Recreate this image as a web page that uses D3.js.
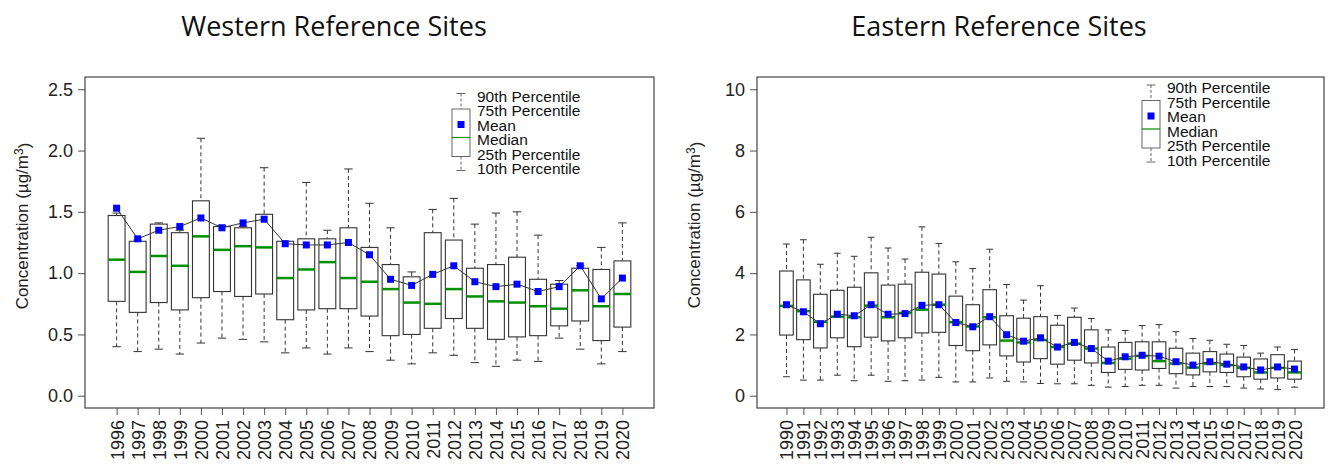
<!DOCTYPE html>
<html>
<head>
<meta charset="utf-8">
<script src="https://cdn.jsdelivr.net/npm/d3@7/dist/d3.min.js"></script>
<style>
  body { margin: 0; background: #fff; }
  svg { display: block; }
</style>
</head>
<body>
<div id="chart"></div>
<script>
// ---- data ----
var westYears = [1996,1997,1998,1999,2000,2001,2002,2003,2004,2005,2006,2007,2008,
                 2009,2010,2011,2012,2013,2014,2015,2016,2017,2018,2019,2020];
var westP90  = [1.49,1.27,1.41,1.35,2.10,1.39,1.38,1.86,1.26,1.74,1.35,1.85,1.57,
                1.37,1.01,1.52,1.61,1.40,1.49,1.50,1.31,0.94,1.06,1.21,1.41];
var westQ3   = [1.47,1.26,1.40,1.33,1.59,1.38,1.37,1.48,1.26,1.28,1.28,1.37,1.21,
                1.07,0.97,1.33,1.27,1.04,1.07,1.13,0.95,0.91,1.04,1.03,1.10];
var westMed  = [1.11,1.01,1.14,1.06,1.30,1.19,1.22,1.21,0.96,1.03,1.09,0.96,0.93,
                0.87,0.76,0.75,0.87,0.81,0.77,0.76,0.73,0.71,0.86,0.73,0.83];
var westQ1   = [0.77,0.68,0.76,0.70,0.80,0.85,0.81,0.83,0.62,0.70,0.71,0.71,0.65,
                0.49,0.50,0.55,0.63,0.55,0.46,0.48,0.49,0.57,0.61,0.45,0.56];
var westP10  = [0.40,0.36,0.38,0.34,0.43,0.47,0.46,0.44,0.35,0.39,0.34,0.39,0.36,
                0.29,0.26,0.35,0.33,0.27,0.24,0.29,0.28,0.47,0.38,0.26,0.36];
var westMean = [1.53,1.28,1.35,1.38,1.45,1.37,1.41,1.44,1.24,1.23,1.23,1.25,1.15,
                0.95,0.90,0.99,1.06,0.93,0.89,0.91,0.85,0.89,1.06,0.79,0.96];
var westTicks = [0, 0.5, 1.0, 1.5, 2.0, 2.5];

var eastYears = [1990,1991,1992,1993,1994,1995,1996,1997,1998,1999,2000,2001,2002,2003,2004,2005,
                 2006,2007,2008,2009,2010,2011,2012,2013,2014,2015,2016,2017,2018,2019,2020];
var eastP90  = [4.95,5.09,4.29,4.65,4.55,5.17,4.82,4.46,5.51,4.97,4.37,4.15,4.78,3.63,3.12,3.59,
                2.62,2.86,2.52,2.15,2.13,2.29,2.32,2.09,1.87,1.81,1.68,1.64,1.39,1.59,1.51];
var eastQ3   = [4.07,3.78,3.31,3.44,3.54,4.01,3.61,3.64,4.03,3.97,3.25,2.97,3.46,2.61,2.53,2.58,
                2.30,2.56,2.15,1.59,1.74,1.76,1.76,1.55,1.39,1.44,1.36,1.26,1.20,1.34,1.13];
var eastMed  = [2.93,2.76,2.41,2.58,2.56,2.94,2.56,2.70,2.81,2.97,2.40,2.26,2.56,1.80,1.74,1.82,
                1.59,1.70,1.54,1.07,1.21,1.30,1.13,1.05,0.92,1.05,1.00,0.91,0.76,0.91,0.76];
var eastQ1   = [1.98,1.83,1.56,1.89,1.60,1.91,1.79,1.89,2.05,2.07,1.64,1.47,1.66,1.30,1.10,1.21,
                1.03,1.16,1.07,0.76,0.86,0.84,0.89,0.72,0.68,0.78,0.76,0.62,0.54,0.58,0.54];
var eastP10  = [0.62,0.51,0.51,0.67,0.49,0.67,0.47,0.49,0.51,0.60,0.45,0.45,0.58,0.47,0.45,0.40,
                0.39,0.39,0.34,0.28,0.30,0.34,0.34,0.25,0.30,0.30,0.30,0.25,0.22,0.20,0.28];
var eastMean = [2.97,2.74,2.35,2.66,2.61,2.97,2.66,2.68,2.95,2.97,2.39,2.25,2.58,1.99,1.78,1.89,
                1.59,1.74,1.54,1.13,1.27,1.32,1.29,1.11,1.00,1.11,1.03,0.94,0.84,0.94,0.87];
var eastTicks = [0, 2, 4, 6, 8, 10];

var legendLabels = ["90th Percentile","75th Percentile","Mean","Median","25th Percentile","10th Percentile"];

// ---- page ----
var width = 1331, height = 464;
var svg = d3.select("#chart").append("svg")
    .attr("width", width)
    .attr("height", height);

var green = "#009000", blue = "#0000ff", ink = "#333";
var axisFont = "'Liberation Sans', Arial, sans-serif";

function build(years, p10, q1, med, q3, p90, mean) {
    return years.map(function(y, i) {
        return {year: y, p10: p10[i], q1: q1[i], med: med[i], q3: q3[i], p90: p90[i], mean: mean[i]};
    });
}

function drawPanel(cfg) {
    var rows = cfg.rows, n = rows.length;
    var f = cfg.frame;
    var first = rows[0].year, last = rows[n - 1].year;
    var pad = 0.5 + 0.04 * n;

    var x = d3.scaleLinear()
        .domain([first - pad, last + pad])
        .range([f.l, f.r]);
    var yMax = cfg.ticks[cfg.ticks.length - 1];
    var y = d3.scaleLinear()
        .domain([-0.04 * yMax, yMax * 1.04])
        .range([f.b, f.t]);

    var step = x(first + 1) - x(first);
    var bw = step * 0.8, cw = bw * 0.5;

    var g = svg.append("g");

    // title
    g.append("text")
        .attr("x", cfg.titleX)
        .attr("y", 36)
        .attr("text-anchor", "middle")
        .style("font-family", "'Open Sans', 'Noto Sans', sans-serif")
        .style("font-size", "27px")
        .style("fill", "#111")
        .text(cfg.title);

    // y axis
    var yAxis = g.append("g")
        .attr("transform", "translate(" + f.l + ",0)")
        .call(d3.axisLeft(y).tickValues(cfg.ticks).tickFormat(cfg.fmt).tickSize(7).tickPadding(5));
    yAxis.select(".domain").remove();

    // x axis
    var xAxis = g.append("g")
        .attr("transform", "translate(0," + f.b + ")")
        .call(d3.axisBottom(x).tickValues(rows.map(function(d) { return d.year; }))
            .tickFormat(d3.format("d")).tickSize(7));
    xAxis.select(".domain").remove();
    xAxis.selectAll("text")
        .attr("transform", "rotate(-90)")
        .attr("x", -12)
        .attr("y", 0)
        .attr("dy", "0.36em")
        .style("text-anchor", "end");

    [yAxis, xAxis].forEach(function(a) {
        a.selectAll("text").style("font-family", axisFont).style("font-size", "18px").style("fill", "#222");
        a.selectAll("line").style("stroke", "#555");
    });

    // y label
    var lab = g.append("text")
        .attr("transform", "translate(" + cfg.ylabX + "," + cfg.ylabY + ") rotate(-90)")
        .attr("text-anchor", "middle")
        .style("font-family", axisFont)
        .style("font-size", "17px")
        .style("fill", "#222");
    lab.append("tspan").text("Concentration (\u00b5g/m");
    lab.append("tspan").attr("dy", "-0.45em").style("font-size", "12px").text("3");
    lab.append("tspan").attr("dy", "0.45em").text(")");

    // frame
    g.append("rect")
        .attr("x", f.l).attr("y", f.t)
        .attr("width", f.r - f.l).attr("height", f.b - f.t)
        .style("fill", "none").style("stroke", "#444").style("stroke-width", 1.2);

    var box = g.selectAll(".bx").data(rows).join("g").attr("class", "bx");

    // whiskers
    box.append("line")
        .attr("x1", function(d) { return x(d.year); }).attr("x2", function(d) { return x(d.year); })
        .attr("y1", function(d) { return y(d.p90); }).attr("y2", function(d) { return y(d.q3); })
        .style("stroke", ink).style("stroke-dasharray", "4,3");
    box.append("line")
        .attr("x1", function(d) { return x(d.year); }).attr("x2", function(d) { return x(d.year); })
        .attr("y1", function(d) { return y(d.q1); }).attr("y2", function(d) { return y(d.p10); })
        .style("stroke", ink).style("stroke-dasharray", "4,3");
    ["p90", "p10"].forEach(function(k) {
        box.append("line")
            .attr("x1", function(d) { return x(d.year) - cw / 2; })
            .attr("x2", function(d) { return x(d.year) + cw / 2; })
            .attr("y1", function(d) { return y(d[k]); }).attr("y2", function(d) { return y(d[k]); })
            .style("stroke", ink);
    });

    // boxes
    box.append("rect")
        .attr("x", function(d) { return x(d.year) - bw / 2; })
        .attr("y", function(d) { return y(d.q3); })
        .attr("width", bw)
        .attr("height", function(d) { return y(d.q1) - y(d.q3); })
        .style("fill", "#fff").style("stroke", ink).style("stroke-width", 1.1);

    // medians
    box.append("line")
        .attr("x1", function(d) { return x(d.year) - bw / 2; })
        .attr("x2", function(d) { return x(d.year) + bw / 2; })
        .attr("y1", function(d) { return y(d.med); }).attr("y2", function(d) { return y(d.med); })
        .style("stroke", green).style("stroke-width", 2.5);

    // mean line + markers
    g.append("path")
        .datum(rows)
        .attr("d", d3.line().x(function(d) { return x(d.year); }).y(function(d) { return y(d.mean); }))
        .style("fill", "none").style("stroke", "#333").style("stroke-width", 1);
    g.selectAll(".mn").data(rows).join("rect").attr("class", "mn")
        .attr("x", function(d) { return x(d.year) - 3.5; })
        .attr("y", function(d) { return y(d.mean) - 3.5; })
        .attr("width", 7).attr("height", 7)
        .style("fill", blue);

    // legend
    var L = cfg.legend, sw = 18, sc = L.x + sw / 2;
    var lg = g.append("g");
    lg.append("line").attr("x1", sc - 4.5).attr("x2", sc + 4.5).attr("y1", L.y).attr("y2", L.y).style("stroke", "#666");
    lg.append("line").attr("x1", sc).attr("x2", sc).attr("y1", L.y).attr("y2", L.y + 15.5)
        .style("stroke", "#666").style("stroke-dasharray", "3,2");
    lg.append("rect").attr("x", L.x).attr("y", L.y + 15.5).attr("width", sw).attr("height", 47.5)
        .style("fill", "#fff").style("stroke", "#666");
    lg.append("line").attr("x1", L.x).attr("x2", L.x + sw).attr("y1", L.y + 44).attr("y2", L.y + 44)
        .style("stroke", green).style("stroke-width", 1.2);
    lg.append("rect").attr("x", sc - 3.5).attr("y", L.y + 27.5).attr("width", 7).attr("height", 7).style("fill", blue);
    lg.append("line").attr("x1", sc).attr("x2", sc).attr("y1", L.y + 63).attr("y2", L.y + 77)
        .style("stroke", "#666").style("stroke-dasharray", "3,2");
    lg.append("line").attr("x1", sc - 4.5).attr("x2", sc + 4.5).attr("y1", L.y + 77).attr("y2", L.y + 77).style("stroke", "#666");
    lg.selectAll("text").data(legendLabels).join("text")
        .attr("x", L.x + 25)
        .attr("y", function(d, i) { return L.y + 3 + i * 14.5; })
        .attr("dy", "0.35em")
        .style("font-family", axisFont)
        .style("font-size", "15.5px")
        .style("fill", "#111")
        .text(function(d) { return d; });
}

drawPanel({
    title: "Western Reference Sites",
    titleX: 334,
    rows: build(westYears, westP10, westQ1, westMed, westQ3, westP90, westMean),
    ticks: westTicks,
    fmt: d3.format(".1f"),
    frame: {l: 85, r: 654, t: 77, b: 408},
    ylabX: 28,
    ylabY: 226,
    legend: {x: 452, y: 93.5}
});

drawPanel({
    title: "Eastern Reference Sites",
    titleX: 999,
    rows: build(eastYears, eastP10, eastQ1, eastMed, eastQ3, eastP90, eastMean),
    ticks: eastTicks,
    fmt: d3.format("d"),
    frame: {l: 757, r: 1324, t: 77, b: 408},
    ylabX: 700,
    ylabY: 225,
    legend: {x: 1142, y: 85}
});
</script>
</body>
</html>
